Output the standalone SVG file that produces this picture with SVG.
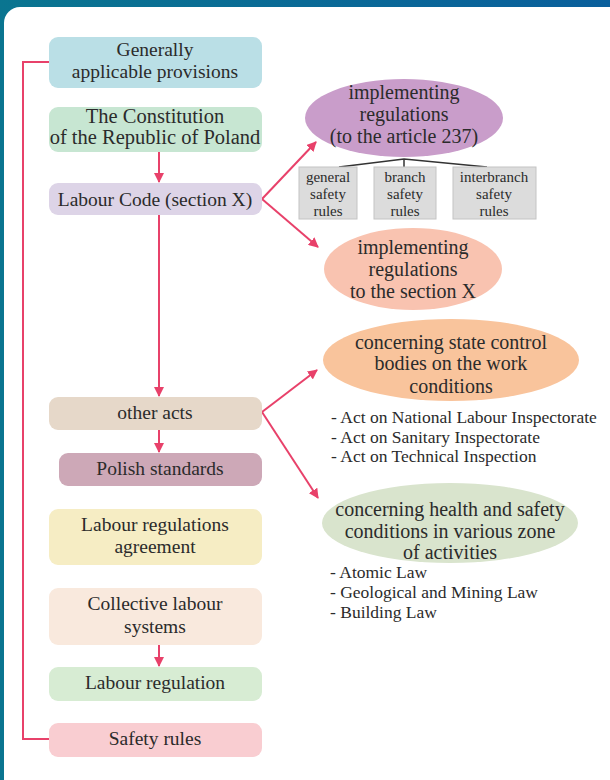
<svg xmlns="http://www.w3.org/2000/svg" width="610" height="780" viewBox="0 0 610 780">
<defs>
<linearGradient id="bg" x1="0" y1="0" x2="1" y2="0">
<stop offset="0" stop-color="#0a7590"/>
<stop offset="1" stop-color="#0a5f9c"/>
</linearGradient>
<marker id="ah" viewBox="0 0 10 10" refX="9" refY="5" markerWidth="10" markerHeight="10" markerUnits="userSpaceOnUse" orient="auto">
<path d="M0,0 L10,5 L0,10 z" fill="#e8416a"/>
</marker>
<style>
text{font-family:"Liberation Serif","Times New Roman",serif;fill:#2b2b2b;text-anchor:middle}
.t{font-size:19.5px}
.e{font-size:20px}
.s{font-size:15px}
.l{font-size:17.5px;text-anchor:start}
.c{fill:none;stroke:#e8416a;stroke-width:2}
.g{fill:#dcdcdc;stroke:#c4c4c4;stroke-width:1}
</style>
</defs>
<rect x="0" y="0" width="610" height="780" fill="url(#bg)"/>
<rect x="4" y="7" width="640" height="800" rx="16" fill="#ffffff"/>

<g id="connectors">
<path class="c" d="M49,62 H23 V739 H49"/>
<path class="c" d="M159,152 V182" marker-end="url(#ah)"/>
<path class="c" d="M159,215 V396" marker-end="url(#ah)"/>
<path class="c" d="M159,430 V452" marker-end="url(#ah)"/>
<path class="c" d="M159,645 V666" marker-end="url(#ah)"/>
<path class="c" d="M262,199 L316,142" marker-end="url(#ah)"/>
<path class="c" d="M262,199 L318,247" marker-end="url(#ah)"/>
<path class="c" d="M262,412 L317,370" marker-end="url(#ah)"/>
<path class="c" d="M262,412 L318,498" marker-end="url(#ah)"/>
<path d="M339,167 L404,159 L487,167 M404,159 V167" fill="none" stroke="#333" stroke-width="1.5"/>
</g>

<g id="n-general"><rect x="49" y="37" width="213" height="51" rx="9" fill="#badfe6"/><text class="t" x="155" y="56">Generally</text><text class="t" x="155" y="78">applicable provisions</text></g>
<g id="n-constitution"><rect x="49" y="107" width="213" height="45" rx="9" fill="#c7e6d2"/><text class="t" x="155" y="123" style="font-size:20.5px">The Constitution</text><text class="t" x="155" y="144" style="font-size:20.5px">of the Republic of Poland</text></g>
<g id="n-labourcode"><rect x="49" y="183" width="213" height="32" rx="9" fill="#ddd4e7"/><text class="t" x="155" y="206">Labour Code (section X)</text></g>
<g id="n-otheracts"><rect x="49" y="397" width="213" height="33" rx="9" fill="#e6d8c9"/><text class="t" x="155" y="419">other acts</text></g>
<g id="n-polish"><rect x="59" y="453" width="203" height="33" rx="9" fill="#cda8b7"/><text class="t" x="160" y="475">Polish standards</text></g>
<g id="n-agreement"><rect x="49" y="509" width="213" height="56" rx="9" fill="#f6edc4"/><text class="t" x="155" y="531">Labour regulations</text><text class="t" x="155" y="553">agreement</text></g>
<g id="n-collective"><rect x="49" y="588" width="213" height="57" rx="9" fill="#f9e9dd"/><text class="t" x="155" y="610">Collective labour</text><text class="t" x="155" y="633">systems</text></g>
<g id="n-regulation"><rect x="49" y="667" width="213" height="34" rx="9" fill="#d7ecd3"/><text class="t" x="155" y="689">Labour regulation</text></g>
<g id="n-safety"><rect x="49" y="723" width="213" height="34" rx="9" fill="#f9cdd1"/><text class="t" x="155" y="745">Safety rules</text></g>

<g id="n-impl237"><ellipse cx="404" cy="118" rx="99" ry="39" fill="#c99dca"/><text class="e" x="404" y="99">implementing</text><text class="e" x="404" y="121">regulations</text><text class="e" x="404" y="143">(to the article 237)</text></g>
<g id="n-general-rules"><rect class="g" x="299" y="167" width="58" height="52"/><text class="s" x="328" y="182">general</text><text class="s" x="328" y="199">safety</text><text class="s" x="328" y="216">rules</text></g>
<g id="n-branch-rules"><rect class="g" x="374" y="167" width="62" height="52"/><text class="s" x="405" y="182">branch</text><text class="s" x="405" y="199">safety</text><text class="s" x="405" y="216">rules</text></g>
<g id="n-interbranch-rules"><rect class="g" x="453" y="167" width="83" height="52"/><text class="s" x="494" y="182">interbranch</text><text class="s" x="494" y="199">safety</text><text class="s" x="494" y="216">rules</text></g>
<g id="n-implX"><ellipse cx="413" cy="269" rx="89" ry="41" fill="#f9c3b0"/><text class="e" x="413" y="254">implementing</text><text class="e" x="413" y="276">regulations</text><text class="e" x="413" y="298">to the section X</text></g>
<g id="n-state"><ellipse cx="451" cy="360" rx="128" ry="41" fill="#f9c49c"/><text class="e" x="451" y="349">concerning state control</text><text class="e" x="451" y="370">bodies on the work</text><text class="e" x="451" y="393">conditions</text></g>
<g id="n-state-list"><text class="l" x="331" y="423">- Act on National Labour Inspectorate</text><text class="l" x="331" y="443">- Act on Sanitary Inspectorate</text><text class="l" x="331" y="462">- Act on Technical Inspection</text></g>
<g id="n-health"><ellipse cx="450" cy="523" rx="128" ry="40" fill="#d9e4cd"/><text class="e" x="450" y="516">concerning health and safety</text><text class="e" x="450" y="538">conditions in various zone</text><text class="e" x="450" y="559">of activities</text></g>
<g id="n-health-list"><text class="l" x="330" y="578">- Atomic Law</text><text class="l" x="330" y="598">- Geological and Mining Law</text><text class="l" x="330" y="618">- Building Law</text></g>
</svg>
